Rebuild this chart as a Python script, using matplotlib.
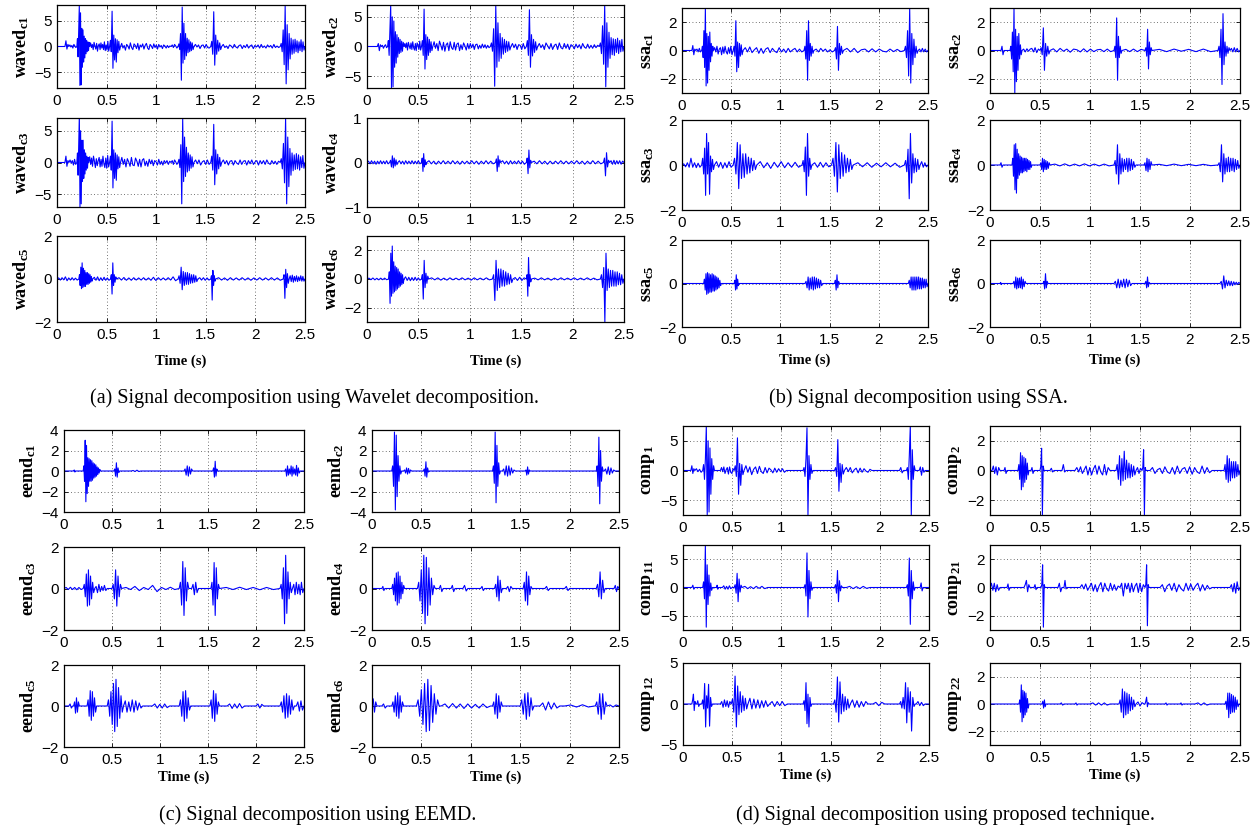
import numpy as np
import matplotlib
matplotlib.use("Agg")
import matplotlib.pyplot as plt

plt.rcParams['font.family'] = ['Liberation Sans', 'DejaVu Sans']
plt.rcParams['mathtext.fontset'] = 'custom'
plt.rcParams['mathtext.bf'] = 'Liberation Serif:bold'
plt.rcParams['mathtext.rm'] = 'Liberation Serif'
plt.rcParams['mathtext.it'] = 'Liberation Serif:italic'

# ---------------- data: segments (t_start, t_end, successive values) ----------------
time_ticks = [0, 0.5, 1, 1.5, 2, 2.5]
time_tick_labels = ['0', '0.5', '1', '1.5', '2', '2.5']

waved_c1 = [
    (0.08, 0.12, [1.1, -0.5, 0.4]),
    (0.12, 0.20, [0.3, -0.1, 0.2, -0.3, 0.4, 0.1, -0.2]),
    (0.20, 0.33, [1.5, -2, 2.5, 7.8, -7.5, 6.5, -7.4, 3.5, -4, 3.2, -3, 2, -2.2, 1.5, -1.4, 1.2, -1, 0.9, -0.8, 0.8]),
    (0.33, 0.53, [0.7, -0.2, 0.4, -0.6, 0.8, 0.1, -0.5, 0.6, -0.9, 0.2, 0.5, -0.6, 0.7, -0.3, 0.4, -0.6, 0.9, -0.8, 0.3, -0.7, 1.0, -0.9]),
    (0.53, 0.64, [1.2, -1, 6.8, -4.2, 2.2, -2.6, 1.5, -3.0, 1.3, -1.2, 1.0, -0.7]),
    (0.64, 1.15, [0.6, -0.3, 0.2, -0.7, 0.4, 0.1, -0.5, 0.7, -0.2, -0.6, 0.5, 0.2, -0.4, 0.6, -0.7, 0.3, -0.1, 0.5, -0.5, 0.2,
                  0.6, -0.3, -0.6, 0.4, 0.1, -0.4, 0.5, -0.2, 0.3, -0.5, 0.4, -0.1, 0.2, -0.4, 0.3, 0.1, -0.3, 0.2, -0.2, 0.1]),
    (1.15, 1.22, [0.3, -0.2, 0.4, 0.1, -0.3]),
    (1.22, 1.38, [0.5, -0.6, 2.5, -6.5, 7.6, -3.2, 4.5, -2.5, 2.5, -1.8, 1.6, -1.2, 1.3, -1.0, 0.9, -0.8, 0.7, -0.6]),
    (1.38, 1.55, [0.4, -0.1, 0.3, -0.4, 0.2, 0.3, -0.3, 0.4, -0.2, -0.3]),
    (1.55, 1.66, [1.0, -1.5, 6.7, -3.6, 2.2, -1.5, 1.2, -0.9, 0.7, -0.6]),
    (1.66, 2.25, [0.4, -0.2, 0.1, -0.4, 0.3, 0.1, -0.3, 0.4, -0.1, -0.3, 0.2, 0.3, -0.4, 0.2, -0.2, 0.4, -0.3, 0.1,
                  0.3, -0.4, 0.2, -0.1, 0.3, -0.3, 0.4, -0.2, 0.1, -0.3, 0.3, -0.1, 0.2, -0.3, 0.4, -0.2, 0.1, -0.2]),
    (2.25, 2.50, [0.6, -1.0, 3.2, -3.5, 7.8, -7.2, 4.2, -4.5, 2.5, -2.4, 1.6, -1.5, 1.3, -1.3, 1.4, -1.0, 1.1, -1.2, 0.9, -0.8, 1.3, -1.0, 0.9, -0.7]),
]

waved_c2 = [
    (0.10, 0.14, [0.5, -0.7, 0.3]),
    (0.14, 0.20, [0.2, -0.3, 0.1, 0.3, -0.2]),
    (0.20, 0.36, [1.0, -1.5, 3, 7.0, -7.0, 5, -6.8, 4.3, -3.5, 2.5, -2.8, 2.0, -1.8, 1.5, -1.2, 1.2, -1.0, 0.9, -0.8, 0.7]),
    (0.36, 0.53, [0.5, -0.2, 0.6, -0.6, 0.7, 0.1, -0.4, 0.6, -0.5, 0.8, -0.2, -0.6, 0.5, -0.7, 0.6, 0.2, -0.5, 0.9, -0.6]),
    (0.53, 0.64, [1.0, -1.5, 6.3, -3.8, 2.0, -2.2, 1.6, -1.5, 1.2, -1.0, 0.8, -0.7]),
    (0.64, 1.20, [0.8, -0.3, 0.5, -0.7, 0.9, 0.2, -0.6, 0.7, -0.8, 0.3, 0.6, -0.7, 0.8, -0.2, -0.5, 0.7, -0.6, 0.4, 0.6, -0.7,
                  0.3, -0.5, 0.6, 0.1, -0.6, 0.5, -0.4, 0.5, -0.2, 0.4, -0.5, 0.3, 0.4, -0.4, 0.2, -0.3, 0.4, -0.2, 0.3, -0.3, 0.2, -0.2]),
    (1.20, 1.40, [0.6, -0.8, 3, -6.7, 7.0, -3.5, 4.0, -2.5, 2.2, -2.0, 1.5, -1.3, 1.2, -1.0, 0.9, -0.8, 0.8, -0.6]),
    (1.40, 1.55, [0.5, -0.2, 0.4, -0.5, 0.3, 0.2, -0.5, 0.5, -0.4]),
    (1.55, 1.66, [1.0, -1.5, 6.2, -3.5, 2.0, -1.6, 1.2, -1.0, 0.8, -0.6]),
    (1.66, 2.26, [0.5, -0.2, 0.3, -0.5, 0.6, 0.1, -0.4, 0.5, -0.5, 0.2, 0.4, -0.5, 0.6, -0.2, -0.4, 0.5, -0.3, 0.4,
                  -0.5, 0.3, 0.1, -0.4, 0.4, -0.2, 0.3, -0.4, 0.5, -0.1, -0.3, 0.4, -0.3, 0.2, -0.3, 0.3, -0.2, 0.2]),
    (2.26, 2.50, [0.6, -1.2, 3.5, -3.0, 7.0, -6.8, 4.0, -3.5, 2.4, -2.0, 1.5, -1.4, 1.3, -1.5, 1.2, -1.0, 1.4, -1.2, 1.0, -0.9, 1.2, -0.8]),
]

waved_c3 = [
    (0.08, 0.12, [1.0, -0.6, 0.3]),
    (0.12, 0.20, [0.4, -0.1, 0.3, -0.4, 0.5, -0.3]),
    (0.20, 0.32, [1.5, -2.0, 3.0, 7.5, -7.0, 5.0, -6.5, 3.5, -3.0, 3.5, -2.5, 2.0, -1.8, 1.5, -1.2, 1.0, -0.9, 0.8]),
    (0.32, 0.53, [0.9, -0.3, 0.7, -0.6, 1.0, 0.2, -0.8, 0.6, -0.5, 0.3, 0.8, -0.7, 0.5, -0.6, 1.0, -0.2, -0.8, 0.7, -0.9, 1.1, -0.7]),
    (0.53, 0.64, [1.0, -1.2, 6.5, -4.0, 2.0, -2.5, 1.5, -2.8, 1.2, -1.0, 0.9, -0.8]),
    (0.64, 1.15, [0.8, -0.3, 0.5, -0.7, 0.6, 0.1, -0.6, 0.8, -0.4, -0.5, 0.7, 0.2, -0.6, 0.5, -0.7, 0.4, 0.6, -0.5, 0.2, -0.6,
                  0.5, -0.2, 0.4, -0.5, 0.3, 0.1, -0.4, 0.5, -0.3, 0.2, -0.4, 0.3, -0.1, 0.3, -0.3, 0.2]),
    (1.15, 1.22, [0.3, -0.3, 0.4, 0.1, -0.3]),
    (1.22, 1.38, [0.5, -0.8, 2.8, -6.5, 6.9, -3.0, 4.0, -2.2, 2.4, -1.5, 1.5, -1.3, 1.2, -0.9, 0.9, -0.7]),
    (1.38, 1.55, [0.4, -0.2, 0.4, -0.4, 0.1, 0.3, -0.3, 0.4, -0.3]),
    (1.55, 1.66, [1.0, -1.2, 6.0, -3.5, 2.0, -1.8, 1.3, -1.0, 0.8, -0.6]),
    (1.66, 2.25, [0.4, -0.2, 0.3, -0.4, 0.2, 0.3, -0.4, 0.3, -0.1, -0.3, 0.4, -0.3, 0.2, 0.3, -0.4, 0.3, -0.2, 0.4,
                  -0.3, 0.1, 0.3, -0.4, 0.3, -0.2, 0.3, -0.3, 0.4, -0.1, -0.3, 0.3, -0.2, 0.2, -0.3, 0.2]),
    (2.25, 2.50, [0.6, -1.0, 3.0, -3.2, 7.0, -6.5, 4.0, -3.8, 2.2, -2.0, 1.5, -1.3, 1.2, -1.1, 1.4, -1.0, 1.2, -1.2, 0.9, -0.8, 1.1, -0.9]),
]

waved_c4 = [
    (0.00, 0.22, [0.03, -0.03, 0.04, -0.03, 0.03, -0.04, 0.03, -0.03, 0.04, -0.03, 0.03, -0.03, 0.04, -0.03]),
    (0.22, 0.30, [0.05, -0.10, 0.15, -0.12, 0.10, -0.08, 0.06, -0.05]),
    (0.30, 0.53, [0.04, -0.03, 0.03, -0.04, 0.04, -0.03, 0.03, -0.03, 0.04, -0.03, 0.03, -0.03, 0.04, -0.03]),
    (0.53, 0.58, [0.10, -0.20, 0.20, -0.10, 0.06, -0.05]),
    (0.58, 1.25, [0.04, -0.03, 0.03, -0.04, 0.03, -0.03, 0.04, -0.03, 0.03, -0.03, 0.04, -0.03, 0.03, -0.04, 0.03, -0.03,
                  0.03, -0.03, 0.04, -0.03, 0.03, -0.04, 0.03, -0.03, 0.04, -0.03, 0.03, -0.03]),
    (1.25, 1.30, [0.08, -0.20, 0.15, -0.10, 0.06]),
    (1.30, 1.55, [0.04, -0.03, 0.03, -0.04, 0.04, -0.03, 0.03, -0.03, 0.04, -0.03, 0.03, -0.04]),
    (1.55, 1.60, [0.10, -0.25, 0.28, -0.12, 0.05]),
    (1.60, 2.30, [0.03, -0.03, 0.04, -0.03, 0.03, -0.04, 0.03, -0.03, 0.03, -0.03, 0.04, -0.03, 0.03, -0.03, 0.03, -0.03,
                  0.04, -0.03, 0.03, -0.04, 0.03, -0.03, 0.04, -0.03, 0.03, -0.03]),
    (2.30, 2.36, [0.10, -0.30, 0.22, -0.10, 0.05]),
    (2.36, 2.50, [0.04, -0.04, 0.05, -0.04, 0.04, -0.03, 0.04, -0.04, 0.03]),
]

waved_c5 = [
    (0.00, 0.22, [0.05, -0.05, 0.06, -0.04, 0.10, -0.08, 0.05, -0.05, 0.06, -0.05, 0.04, -0.05]),
    (0.22, 0.36, [0.2, -0.3, 0.55, -0.45, 0.75, -0.4, 0.5, -0.35, 0.4, -0.35, 0.3, -0.25, 0.3, -0.25, 0.25, -0.2, 0.2, -0.15, 0.12, -0.1]),
    (0.36, 0.54, [0.08, -0.06, 0.10, -0.08, 0.06, -0.07, 0.08, -0.06, 0.05, -0.06]),
    (0.54, 0.60, [0.2, -0.7, 0.75, -0.3, 0.2, -0.15, 0.1]),
    (0.60, 1.22, [0.06, -0.05, 0.07, -0.06, 0.05, -0.06, 0.06, -0.05, 0.05, -0.05, 0.06, -0.05, 0.05, -0.06, 0.08, -0.07,
                  0.06, -0.05, 0.05, -0.05, 0.06, -0.05, 0.1, -0.08]),
    (1.22, 1.42, [0.15, -0.2, 0.55, -0.5, 0.35, -0.3, 0.3, -0.25, 0.3, -0.25, 0.25, -0.2, 0.2, -0.18, 0.2, -0.15, 0.15, -0.12]),
    (1.42, 1.55, [0.06, -0.05, 0.06, -0.06, 0.05, -0.05]),
    (1.55, 1.60, [0.15, -0.98, 0.4, -0.3, 0.15, -0.1]),
    (1.60, 2.28, [0.06, -0.05, 0.05, -0.06, 0.06, -0.05, 0.05, -0.05, 0.06, -0.05, 0.05, -0.06, 0.05, -0.05, 0.06, -0.05,
                  0.05, -0.05, 0.06, -0.05, 0.05, -0.06]),
    (2.28, 2.34, [0.2, -0.9, 0.45, -0.4, 0.25, -0.2]),
    (2.34, 2.50, [0.15, -0.12, 0.18, -0.15, 0.12, -0.1, 0.15, -0.12, 0.1, -0.08, 0.15, -0.1, 0.12, -0.1]),
]

waved_c6 = [
    (0.00, 0.21, [0.06, -0.05, 0.07, -0.06, 0.05, -0.06, 0.06, -0.05, 0.06, -0.05]),
    (0.21, 0.36, [0.5, -1.7, 1.8, -1.2, 2.3, -1.0, 1.2, -0.9, 0.9, -0.8, 0.8, -0.7, 0.7, -0.6, 0.5, -0.5, 0.4, -0.4, 0.3, -0.3]),
    (0.36, 0.53, [0.15, -0.1, 0.12, -0.12, 0.1, -0.1, 0.12, -0.1, 0.08, -0.08]),
    (0.53, 0.60, [0.3, -1.4, 1.3, -0.6, 0.4, -0.3, 0.2]),
    (0.60, 1.22, [0.08, -0.06, 0.08, -0.08, 0.06, -0.08, 0.08, -0.06, 0.06, -0.06, 0.08, -0.06, 0.06, -0.08, 0.08, -0.06,
                  0.06, -0.06, 0.08, -0.06]),
    (1.22, 1.42, [0.3, -1.5, 1.3, -0.8, 0.7, -0.6, 0.7, -0.5, 0.6, -0.5, 0.5, -0.4, 0.4, -0.35, 0.3, -0.25]),
    (1.42, 1.55, [0.1, -0.1, 0.12, -0.1, 0.08]),
    (1.55, 1.60, [0.3, -1.2, 1.5, -0.5, 0.3, -0.2]),
    (1.60, 2.27, [0.06, -0.06, 0.08, -0.06, 0.06, -0.08, 0.06, -0.06, 0.08, -0.06, 0.06, -0.06, 0.08, -0.06, 0.06, -0.06,
                  0.08, -0.06, 0.06, -0.06]),
    (2.27, 2.50, [0.3, -0.6, 0.8, -3.0, 1.8, -0.8, 0.7, -0.6, 0.6, -0.5, 0.6, -0.5, 0.5, -0.5, 0.5, -0.4, 0.4, -0.4, 0.3, -0.3]),
]

ssa_c1 = [
    (0.10, 0.14, [0.35, -0.3, 0.1]),
    (0.14, 0.20, [0.1, -0.1, 0.15, -0.1]),
    (0.20, 0.32, [0.3, -0.5, 1.4, -1.2, 3.0, -2.5, 1.2, -2.3, 1.0, -1.4, 1.3, -0.8, 0.5, -0.4, 0.3]),
    (0.32, 0.52, [0.2, -0.1, 0.3, -0.25, 0.1, 0.2, -0.3, 0.25, -0.2, 0.3, -0.1, -0.25, 0.2, -0.2, 0.3, -0.3]),
    (0.52, 0.62, [0.3, -0.4, 2.1, -1.5, 0.6, -1.2, 0.5, -0.4, 0.4, -0.3]),
    (0.62, 1.24, [0.2, -0.1, 0.25, -0.15, 0.05, 0.2, -0.2, 0.15, -0.2, 0.1, 0.2, -0.15, 0.15, -0.05, -0.15, 0.2, -0.1, 0.1,
                  -0.15, 0.15, -0.1, 0.05, 0.15, -0.1, 0.1, -0.1]),
    (1.24, 1.34, [0.3, -0.6, 1.4, -2.1, 2.1, -0.7, 0.5, -0.4, 0.3, -0.2]),
    (1.34, 1.55, [0.1, -0.1, 0.15, -0.05, 0.1, -0.1, 0.05, -0.1]),
    (1.55, 1.64, [0.2, -0.6, 1.7, -1.4, 0.5, -0.3, 0.3, -0.2]),
    (1.64, 2.26, [0.15, -0.1, 0.15, -0.15, 0.05, 0.1, -0.1, 0.12, -0.1, 0.1, -0.05, -0.1, 0.1, -0.08, 0.08, -0.08]),
    (2.26, 2.40, [0.3, -0.5, 1.4, -1.8, 3.0, -2.3, 1.2, -1.0, 0.8, -0.5, 0.3, -0.2]),
    (2.40, 2.50, [0.1, -0.1, 0.15, -0.1, 0.1, -0.1]),
]

ssa_c2 = [
    (0.11, 0.14, [0.3, -0.3]),
    (0.20, 0.32, [0.3, -0.6, 1.3, -1.5, 3.0, -3.0, 1.5, -2.2, 1.0, -1.4, 1.2, -0.6, 0.4, -0.3]),
    (0.32, 0.50, [0.1, -0.1, 0.12, -0.05, 0.1, 0.15, -0.1, 0.2, -0.15, 0.1]),
    (0.50, 0.60, [0.2, -0.3, 1.6, -1.4, 0.5, -0.4, 0.3, -0.25]),
    (0.60, 1.24, [0.12, -0.1, 0.15, -0.05, 0.1, -0.12, 0.1, 0.05, -0.1, 0.12, -0.1, 0.1, -0.08, 0.05, 0.08, -0.08, 0.1, -0.08]),
    (1.24, 1.32, [0.3, -0.5, 2.3, -2.1, 1.0, -0.5, 0.3, -0.2]),
    (1.32, 1.55, [0.08, -0.08, 0.1, -0.08, 0.08]),
    (1.55, 1.62, [0.2, -0.4, 1.5, -1.3, 0.6, -0.3, 0.2]),
    (1.62, 2.28, [0.08, -0.08, 0.1, -0.05, 0.08, -0.08, 0.1, -0.08]),
    (2.28, 2.40, [0.3, -0.5, 1.5, -2.4, 2.6, -1.0, 0.6, -0.4, 0.3, -0.2, 0.2]),
    (2.40, 2.50, [0.15, -0.1, 0.2, -0.1, 0.15, -0.1]),
]

ssa_c3 = [
    (0.00, 0.20, [0.05, -0.08, 0.1, -0.1, 0.3, -0.1, 0.1, -0.12, 0.08, -0.1]),
    (0.20, 0.33, [0.3, -0.4, 0.75, -1.35, 1.4, -0.4, 1.0, -1.3, 0.4, -0.3, 0.25, -0.2]),
    (0.33, 0.52, [0.15, -0.1, 0.12, -0.15, 0.1, -0.12, 0.15, -0.1]),
    (0.52, 0.76, [0.3, -0.4, 1.0, -1.05, 0.9, -0.6, 0.5, -0.55, 0.5, -0.4, 0.35, -0.35, 0.3, -0.25, 0.2, -0.2]),
    (0.76, 1.22, [0.15, -0.12, 0.1, -0.15, 0.12, -0.1, 0.15, -0.12, 0.1, -0.1, 0.12, -0.1]),
    (1.22, 1.32, [0.2, -0.3, 0.8, -1.35, 1.4, -0.5, 0.3, -0.2]),
    (1.32, 1.52, [0.1, -0.1, 0.12, -0.1, 0.1, -0.08]),
    (1.52, 1.74, [0.3, -0.5, 1.0, -1.2, 0.9, -0.6, 0.55, -0.5, 0.45, -0.35, 0.3, -0.3, 0.25, -0.2]),
    (1.74, 2.26, [0.1, -0.08, 0.1, -0.1, 0.08, -0.08, 0.1, -0.08, 0.08, -0.1]),
    (2.26, 2.42, [0.2, -0.3, 0.7, -1.5, 1.4, -0.8, 0.5, -0.35, 0.3, -0.3, 0.25, -0.2]),
    (2.42, 2.50, [0.15, -0.1, 0.1, -0.08]),
]

ssa_c4 = [
    (0.10, 0.13, [0.1, -0.1]),
    (0.22, 0.42, [0.3, -0.5, 0.9, -1.1, 0.95, -1.25, 0.7, -0.6, 0.5, -0.45, 0.4, -0.35, 0.35, -0.35, 0.3, -0.3, 0.3, -0.25,
                  0.3, -0.3, 0.25, -0.2, 0.2, -0.2, 0.15, -0.1]),
    (0.50, 0.60, [0.1, -0.2, 0.3, -0.3, 0.25, -0.2, 0.2, -0.2, 0.15, -0.15, 0.1]),
    (0.60, 1.24, [0.04, -0.04, 0.05, -0.04, 0.04, -0.04, 0.05, -0.04, 0.04, -0.04, 0.04, -0.04]),
    (1.24, 1.46, [0.2, -0.4, 0.9, -0.85, 0.5, -0.4, 0.3, -0.3, 0.25, -0.2, 0.3, -0.3, 0.3, -0.25, 0.25, -0.2, 0.15, -0.1]),
    (1.54, 1.62, [0.1, -0.25, 0.3, -0.3, 0.25, -0.2, 0.15]),
    (1.62, 2.28, [0.03, -0.03, 0.04, -0.03, 0.03, -0.03, 0.03, -0.03]),
    (2.28, 2.50, [0.1, -0.3, 0.9, -0.75, 0.5, -0.4, 0.3, -0.3, 0.35, -0.3, 0.3, -0.25, 0.3, -0.3, 0.25, -0.2, 0.2, -0.15]),
]

ssa_c5 = [
    (0.22, 0.40, [0.2, -0.3, 0.45, -0.5, 0.5, -0.45, 0.45, -0.4, 0.4, -0.4, 0.45, -0.35, 0.4, -0.35, 0.35, -0.3, 0.3, -0.25,
                  0.25, -0.2, 0.15, -0.1]),
    (0.53, 0.58, [0.15, -0.3, 0.4, -0.25, 0.2, -0.1]),
    (1.25, 1.43, [0.1, -0.2, 0.3, -0.3, 0.25, -0.25, 0.3, -0.3, 0.3, -0.25, 0.25, -0.2, 0.2, -0.2, 0.15, -0.1]),
    (1.55, 1.60, [0.15, -0.3, 0.4, -0.2, 0.1]),
    (2.30, 2.50, [0.15, -0.2, 0.3, -0.3, 0.3, -0.3, 0.3, -0.3, 0.3, -0.25, 0.3, -0.25, 0.25, -0.25, 0.25, -0.2, 0.2, -0.2, 0.2, -0.15]),
]

ssa_c6 = [
    (0.10, 0.12, [0.05, -0.05]),
    (0.23, 0.36, [0.1, -0.2, 0.3, -0.25, 0.25, -0.2, 0.25, -0.2, 0.3, -0.25, 0.2, -0.15, 0.1]),
    (0.53, 0.58, [0.1, -0.25, 0.45, -0.2, 0.1]),
    (1.24, 1.42, [0.1, -0.2, 0.2, -0.2, 0.15, -0.15, 0.2, -0.2, 0.2, -0.15, 0.15, -0.1]),
    (1.55, 1.60, [0.1, -0.2, 0.3, -0.15, 0.05]),
    (2.30, 2.50, [0.1, -0.25, 0.35, -0.2, 0.15, -0.1, 0.12, -0.1, 0.1, -0.1, 0.08, -0.06, 0.06, -0.05, 0.05]),
]

eemd_c1 = [
    (0.10, 0.12, [0.1, -0.1]),
    (0.20, 0.38, [0.5, -1.0, 3.0, -3.0, 2.5, -2.2, 1.3, -1.5, 1.2, -1.0, 1.1, -1.0, 1.0, -0.9, 0.8, -0.7, 0.7, -0.6, 0.6, -0.5,
                  0.4, -0.35, 0.3, -0.2, 0.15]),
    (0.52, 0.58, [0.2, -0.5, 0.8, -0.6, 0.3, -0.15]),
    (0.70, 0.80, [0.05, -0.05, 0.08, -0.05]),
    (1.25, 1.34, [0.2, -0.4, 0.5, -0.5, 0.4, -0.3, 0.2]),
    (1.55, 1.60, [0.3, -0.6, 0.95, -0.5, 0.2]),
    (2.30, 2.46, [0.2, -0.5, 0.5, -0.4, 0.2, -0.3, 0.5, -0.5, 0.4, -0.3, 0.2, -0.4, 0.55, -0.5, 0.3, -0.2]),
]

eemd_c2 = [
    (0.20, 0.30, [0.5, -1.5, 3.8, -3.8, 3.5, -2.5, 1.5, -1.0, 0.5, -0.3]),
    (0.32, 0.40, [0.1, -0.2, 0.3, -0.3, 0.25, -0.2, 0.1]),
    (0.52, 0.58, [0.2, -0.5, 0.9, -0.6, 0.3, -0.1]),
    (1.22, 1.30, [0.5, -1.2, 3.8, -3.1, 2.5, -1.5, 0.8, -0.3]),
    (1.32, 1.45, [0.2, -0.4, 0.5, -0.5, 0.5, -0.4, 0.3, -0.2, 0.1]),
    (1.55, 1.60, [0.1, -0.4, 0.4, -0.3, 0.1]),
    (2.27, 2.34, [0.5, -1.5, 3.3, -3.2, 2.0, -1.0, 0.4]),
    (2.35, 2.46, [0.2, -0.3, 0.4, -0.35, 0.3, -0.2, 0.1]),
]

eemd_c3 = [
    (0.00, 0.20, [0.05, -0.05, 0.06, -0.05, 0.05, -0.06, 0.05, -0.05]),
    (0.20, 0.32, [0.2, -0.4, 0.7, -0.85, 0.9, -0.8, 0.6, -0.5, 0.3, -0.2]),
    (0.32, 0.45, [0.1, -0.2, 0.2, -0.15, 0.1, -0.1, 0.15, -0.1]),
    (0.50, 0.60, [0.2, -0.5, 0.9, -0.85, 0.6, -0.4, 0.2]),
    (0.60, 1.20, [0.05, -0.05, 0.1, -0.1, 0.05, -0.05, 0.15, -0.15, 0.05, -0.05, 0.06, -0.05]),
    (1.20, 1.30, [0.3, -0.8, 1.3, -1.3, 1.0, -0.6, 0.3]),
    (1.33, 1.40, [0.2, -0.3, 0.3, -0.2]),
    (1.53, 1.62, [0.3, -0.8, 1.25, -1.3, 1.0, -0.5, 0.2]),
    (1.62, 2.25, [0.05, -0.05, 0.06, -0.05, 0.05, -0.06, 0.05, -0.05]),
    (2.25, 2.38, [0.2, -0.5, 1.0, -1.7, 1.6, -1.2, 0.8, -0.5, 0.3, -0.2]),
    (2.38, 2.50, [0.2, -0.3, 0.3, -0.25, 0.2, -0.3, 0.3, -0.2]),
]

eemd_c4 = [
    (0.10, 0.13, [0.1, -0.1]),
    (0.20, 0.33, [0.2, -0.3, 0.5, -0.6, 0.75, -0.8, 0.8, -0.7, 0.6, -0.5, 0.3, -0.25, 0.15]),
    (0.46, 0.64, [0.3, -0.6, 0.9, -1.2, 1.6, -1.7, 1.5, -1.3, 1.0, -0.8, 0.5, -0.3, 0.15]),
    (0.68, 0.72, [0.15, -0.15]),
    (0.80, 0.84, [0.15, -0.15]),
    (0.92, 0.97, [0.15, -0.12]),
    (1.10, 1.14, [0.1, -0.1]),
    (1.24, 1.32, [0.2, -0.4, 0.6, -0.6, 0.4, -0.2]),
    (1.36, 1.42, [0.1, -0.15, 0.1]),
    (1.53, 1.62, [0.3, -0.6, 0.8, -0.8, 0.6, -0.3, 0.1]),
    (1.75, 1.80, [0.1, -0.1]),
    (1.95, 2.00, [0.1, -0.1]),
    (2.27, 2.36, [0.2, -0.4, 0.8, -0.5, 0.4, -0.2]),
    (2.45, 2.50, [0.15, -0.15, 0.1]),
]

eemd_c5 = [
    (0.05, 0.09, [0.1, -0.1]),
    (0.10, 0.16, [0.2, -0.35, 0.4, -0.3, 0.2]),
    (0.24, 0.34, [0.3, -0.5, 0.75, -0.7, 0.7, -0.5, 0.4, -0.3]),
    (0.45, 0.62, [0.3, -0.5, 0.7, -0.9, 1.1, -1.25, 1.3, -1.0, 0.9, -0.6, 0.5, -0.3]),
    (0.62, 0.82, [0.25, -0.3, 0.2, -0.25, 0.3, -0.3, 0.25, -0.2, 0.15, -0.1]),
    (0.92, 1.10, [0.1, -0.1, 0.08, -0.1, 0.1, -0.08]),
    (1.20, 1.32, [0.3, -0.5, 0.7, -0.75, 0.75, -0.6, 0.4, -0.2]),
    (1.52, 1.62, [0.3, -0.6, 0.75, -0.75, 0.6, -0.4, 0.2]),
    (1.70, 1.88, [0.1, -0.12, 0.1, -0.1, 0.12, -0.1]),
    (2.00, 2.08, [0.1, -0.1, 0.08]),
    (2.25, 2.40, [0.2, -0.3, 0.5, -0.6, 0.6, -0.55, 0.5, -0.4, 0.3, -0.2]),
    (2.42, 2.50, [0.2, -0.25, 0.25, -0.2]),
]

eemd_c6 = [
    (0.00, 0.05, [0.35, -0.3, 0.2]),
    (0.10, 0.15, [0.1, -0.1]),
    (0.20, 0.32, [0.2, -0.3, 0.5, -0.5, 0.65, -0.6, 0.5, -0.3, 0.2]),
    (0.45, 0.68, [0.3, -0.5, 0.8, -0.9, 1.1, -1.25, 1.3, -1.2, 1.0, -0.8, 0.6, -0.4, 0.3]),
    (0.70, 1.20, [0.1, -0.1, 0.12, -0.1, 0.1, -0.12, 0.1, -0.1, 0.08, -0.1, 0.1, -0.08]),
    (1.22, 1.32, [0.2, -0.4, 0.6, -0.6, 0.5, -0.3, 0.2]),
    (1.50, 1.64, [0.3, -0.4, 0.6, -0.65, 0.65, -0.5, 0.4, -0.2]),
    (1.70, 1.90, [0.15, -0.2, 0.2, -0.15, 0.15, -0.1]),
    (1.95, 2.25, [0.05, -0.05, 0.06, -0.05]),
    (2.26, 2.38, [0.2, -0.4, 0.6, -0.65, 0.6, -0.4, 0.2]),
    (2.38, 2.50, [0.05, -0.05, 0.05]),
]

comp_1 = [
    (0.08, 0.12, [0.8, -0.5, 0.3]),
    (0.12, 0.20, [0.3, -0.2, 0.2, -0.3]),
    (0.20, 0.32, [1.0, -1.5, 2.0, 7.5, -7.5, 5.0, -7.0, 3.8, -4.0, 2.0, -1.5, 0.8]),
    (0.38, 0.52, [0.5, -0.2, 0.6, -0.5, 0.1, 0.5, -0.6, 0.6, -0.3, -0.5, 0.3]),
    (0.52, 0.62, [0.8, -1.0, 5.5, -4.0, 1.2, -2.5, 1.0, -0.7]),
    (0.62, 1.05, [0.8, -0.3, 0.6, -0.7, 0.2, 0.6, -0.5, 0.7, -0.2, -0.5, 0.5, -0.4, 0.4, 0.1, -0.4, 0.4, -0.3, 0.3, -0.2, 0.3, -0.3]),
    (1.22, 1.32, [0.5, -1.0, 2.0, 7.2, -7.5, 2.5, -1.5, 1.0, -0.5]),
    (1.54, 1.64, [0.5, -1.0, 5.2, -3.5, 1.2, -2.0, 1.0, -0.6]),
    (1.64, 1.92, [0.5, -0.2, 0.5, -0.4, 0.1, 0.4, -0.4, 0.4, -0.3, 0.3, -0.1, -0.3, 0.2]),
    (2.20, 2.24, [0.5, -0.4]),
    (2.27, 2.36, [0.5, -1.5, 2.5, 7.5, -7.5, 3.5, -1.5, 0.8]),
    (2.40, 2.46, [0.6, -0.8, 0.5, -0.3]),
]

comp_2 = [
    (0.02, 0.10, [0.3, -0.2, 0.25, -0.3, 0.2]),
    (0.14, 0.17, [0.2, -0.2]),
    (0.28, 0.39, [0.4, -0.6, 1.2, -1.3, 1.0, -1.1, 0.9, -0.8, 0.8, -0.6, 0.5, -0.3]),
    (0.41, 0.44, [0.2, -0.2]),
    (0.50, 0.54, [0.3, 1.5, -3.0, 0.3]),
    (0.60, 0.64, [0.15, -0.1]),
    (0.72, 0.76, [0.4, -0.1]),
    (0.85, 1.20, [0.2, -0.1, 0.25, -0.2, 0.05, 0.3, -0.3, 0.2, -0.3, 0.1, 0.35, -0.25, 0.3, -0.1, -0.3, 0.4, -0.3, 0.2]),
    (1.26, 1.46, [0.4, -0.6, 1.0, -1.0, 0.8, -0.7, 1.3, -0.6, 0.7, -0.5, 0.5, -0.5, 0.4, -0.4, 0.3, -0.3]),
    (1.46, 1.52, [0.2, -0.2, 0.15]),
    (1.52, 1.56, [0.2, 1.4, -3.0, 0.2]),
    (1.60, 2.22, [0.2, -0.2, 0.05, 0.15, -0.2, 0.25, -0.1, -0.2, 0.2, -0.25, 0.3, -0.2, 0.1, 0.2, -0.2, 0.25, -0.25, 0.2,
                  -0.1, -0.2, 0.3, -0.2, 0.2, -0.15]),
    (2.34, 2.50, [0.4, -0.6, 1.0, -0.8, 0.8, -0.7, 0.6, -0.5, 0.6, -0.5, 0.6, -0.4, 0.4, -0.3]),
]

comp_11 = [
    (0.09, 0.12, [0.4, -0.3]),
    (0.20, 0.30, [1.0, -2.0, 7.5, -7.0, 4.0, -3.0, 2.2, -1.5, 0.8, -0.5]),
    (0.34, 0.36, [0.4, -0.3]),
    (0.40, 0.50, [0.3, -0.3, 0.2, -0.3, 0.3, -0.2]),
    (0.52, 0.60, [0.5, -1.0, 2.5, -2.5, 1.5, -0.8, 0.4]),
    (0.60, 0.86, [0.2, -0.2, 0.15, -0.2, 0.2, -0.15, 0.2, -0.2]),
    (1.23, 1.32, [0.5, -1.5, 6.1, -5.2, 3.0, -2.0, 1.0, -0.5]),
    (1.54, 1.62, [0.5, -1.0, 3.0, -2.5, 1.2, -0.6, 0.3]),
    (1.66, 1.90, [0.2, -0.2, 0.15, -0.2, 0.2, -0.15]),
    (2.27, 2.36, [0.5, -1.5, 5.2, -6.5, 3.0, -2.0, 1.0, -0.5]),
    (2.41, 2.44, [0.8, -0.6]),
]

comp_21 = [
    (0.00, 0.10, [0.3, -0.2, 0.3, -0.3, 0.2, -0.2]),
    (0.17, 0.20, [0.25, -0.2]),
    (0.34, 0.40, [0.2, 0.5, -0.3, 0.2]),
    (0.44, 0.47, [0.2, -0.15]),
    (0.51, 0.55, [0.2, 1.6, -2.8, 0.2]),
    (0.68, 0.72, [0.3, -0.3]),
    (0.74, 0.77, [0.5, -0.1]),
    (0.90, 1.30, [0.2, -0.1, 0.25, -0.2, 0.05, 0.3, -0.25, 0.2, -0.3, 0.1, 0.35, -0.3, 0.3, -0.1, -0.25, 0.3, -0.2, 0.2, -0.2, 0.1]),
    (1.30, 1.55, [0.3, -0.6, 0.3, -0.1, 0.3, -0.35, 0.3, -0.3, 0.1, 0.3, -0.35, 0.3, -0.3, 0.2]),
    (1.55, 1.59, [0.2, 1.6, -2.7, 0.2]),
    (1.70, 2.22, [0.2, -0.3, 0.1, 0.25, -0.2, 0.3, -0.3, 0.2, -0.1, -0.25, 0.3, -0.2, 0.25, -0.2, 0.1, 0.3, -0.25, 0.2,
                  -0.2, 0.15, -0.1]),
    (2.40, 2.50, [0.2, -0.3, 0.3, -0.4, 0.4, -0.2]),
]

comp_12 = [
    (0.09, 0.13, [0.5, 1.2, -0.8, 0.3]),
    (0.14, 0.17, [0.4, -0.3]),
    (0.19, 0.30, [0.5, -0.6, 2.5, -2.8, 1.0, -0.5, 2.4, -2.7, 0.8, -0.3]),
    (0.38, 0.49, [0.3, -0.4, 0.5, -0.3, 0.4, -0.4, 0.3]),
    (0.49, 0.66, [0.6, -1.0, 3.4, -2.8, 2.2, -1.3, 1.5, -1.0, 1.0, -0.8, 0.7, -0.6]),
    (0.66, 0.88, [0.7, -0.6, 0.6, -0.5, 0.5, -0.5, 0.4, -0.4, 0.4, -0.3]),
    (0.88, 1.06, [0.3, -0.3, 0.3, -0.2, 0.3, -0.2]),
    (1.22, 1.31, [0.4, -0.8, 2.6, -2.4, 1.2, -2.8, 0.8, -0.3]),
    (1.53, 1.70, [0.5, -1.0, 3.3, -2.2, 2.7, -1.2, 1.2, -0.9, 0.9, -0.7, 0.6, -0.5]),
    (1.70, 1.88, [0.5, -0.4, 0.4, -0.4, 0.3, -0.3, 0.3]),
    (1.93, 2.05, [0.2, -0.2, 0.2]),
    (2.20, 2.36, [0.3, -0.5, 0.8, -0.6, 2.6, -2.3, 2.0, -1.0, 1.5, -3.3, 0.8, -0.3]),
    (2.37, 2.46, [0.3, -0.2, 0.2, -0.2]),
]

comp_22 = [
    (0.29, 0.39, [0.3, -0.6, 1.4, -1.3, 1.0, -1.0, 0.9, -0.8, 0.8, -0.6, 0.4, -0.3]),
    (0.52, 0.56, [0.2, -0.3, 0.3, -0.2]),
    (0.70, 0.74, [0.08, -0.08]),
    (0.85, 0.88, [0.08, -0.08]),
    (1.00, 1.20, [0.08, -0.08, 0.08, -0.08, 0.08, -0.08]),
    (1.29, 1.46, [0.3, -0.6, 1.1, -1.0, 0.9, -0.8, 0.8, -0.7, 0.7, -0.5, 0.5, -0.4, 0.3, -0.2]),
    (1.46, 1.54, [0.15, -0.15, 0.1]),
    (1.55, 1.59, [0.2, 0.5, -0.2, 0.1]),
    (1.75, 1.78, [0.08, -0.08]),
    (1.90, 1.93, [0.08, -0.08]),
    (2.05, 2.20, [0.08, -0.08, 0.08, -0.08]),
    (2.35, 2.49, [0.2, -0.4, 0.8, -1.0, 0.8, -0.7, 0.7, -0.6, 0.6, -0.6, 0.5, -0.4, 0.3, -0.2]),
]

captions = [
    "(a) Signal decomposition using Wavelet decomposition.",
    "(b) Signal decomposition using SSA.",
    "(c) Signal decomposition using EEMD.",
    "(d) Signal decomposition using proposed technique.",
]

# ---------------- layout (pixel boxes: left, top, right, bottom) ----------------
W, H = 1260, 830
quad_cols = {
    'a': [(57, 305), (367, 624)],
    'b': [(682, 928), (990, 1240)],
    'c': [(64, 304), (372, 619)],
    'd': [(683, 929), (990, 1240)],
}
quad_rows = {
    'a': [(5, 88), (118, 207), (236, 322)],
    'b': [(8, 93), (120, 210), (240, 327)],
    'c': [(430, 512), (547, 630), (665, 747)],
    'd': [(426, 515), (545, 630), (663, 745)],
}
xlabel_pad = {'a': 9, 'b': 5, 'c': 3, 'd': 3}
caption_pos = [(315, 398), (918, 398), (318, 815), (945, 815)]

panels = [
    ('a', 0, 0, waved_c1, 'waved', 'c1', (-8, 8), [-5, 0, 5]),
    ('a', 0, 1, waved_c2, 'waved', 'c2', (-7, 7), [-5, 0, 5]),
    ('a', 1, 0, waved_c3, 'waved', 'c3', (-7, 7), [-5, 0, 5]),
    ('a', 1, 1, waved_c4, 'waved', 'c4', (-1, 1), [-1, 0, 1]),
    ('a', 2, 0, waved_c5, 'waved', 'c5', (-2, 2), [-2, 0, 2]),
    ('a', 2, 1, waved_c6, 'waved', 'c6', (-3, 3), [-2, 0, 2]),
    ('b', 0, 0, ssa_c1, 'ssa', 'c1', (-3, 3), [-2, 0, 2]),
    ('b', 0, 1, ssa_c2, 'ssa', 'c2', (-3, 3), [-2, 0, 2]),
    ('b', 1, 0, ssa_c3, 'ssa', 'c3', (-2, 2), [-2, 0, 2]),
    ('b', 1, 1, ssa_c4, 'ssa', 'c4', (-2, 2), [-2, 0, 2]),
    ('b', 2, 0, ssa_c5, 'ssa', 'c5', (-2, 2), [-2, 0, 2]),
    ('b', 2, 1, ssa_c6, 'ssa', 'c6', (-2, 2), [-2, 0, 2]),
    ('c', 0, 0, eemd_c1, 'eemd', 'c1', (-4, 4), [-4, -2, 0, 2, 4]),
    ('c', 0, 1, eemd_c2, 'eemd', 'c2', (-4, 4), [-4, -2, 0, 2, 4]),
    ('c', 1, 0, eemd_c3, 'eemd', 'c3', (-2, 2), [-2, 0, 2]),
    ('c', 1, 1, eemd_c4, 'eemd', 'c4', (-2, 2), [-2, 0, 2]),
    ('c', 2, 0, eemd_c5, 'eemd', 'c5', (-2, 2), [-2, 0, 2]),
    ('c', 2, 1, eemd_c6, 'eemd', 'c6', (-2, 2), [-2, 0, 2]),
    ('d', 0, 0, comp_1, 'comp', '1', (-7.5, 7.5), [-5, 0, 5]),
    ('d', 0, 1, comp_2, 'comp', '2', (-3, 3), [-2, 0, 2]),
    ('d', 1, 0, comp_11, 'comp', '11', (-7.5, 7.5), [-5, 0, 5]),
    ('d', 1, 1, comp_21, 'comp', '21', (-3, 3), [-2, 0, 2]),
    ('d', 2, 0, comp_12, 'comp', '12', (-5, 5), [-5, 0, 5]),
    ('d', 2, 1, comp_22, 'comp', '22', (-3, 3), [-2, 0, 2]),
]


def build(segs):
    t = [0.0]
    y = [0.0]
    for t0, t1, vals in segs:
        pts = np.linspace(t0, t1, len(vals) + 2)
        t.append(t0); y.append(0.0)
        t.extend(pts[1:-1]); y.extend(vals)
        t.append(t1); y.append(0.0)
    t.append(2.5); y.append(0.0)
    return np.array(t), np.array(y)


fig = plt.figure(figsize=(W / 100, H / 100), dpi=100)

for q, r, c, segs, name, sub, ylim, yticks in panels:
    x0, x1 = quad_cols[q][c]
    y0, y1 = quad_rows[q][r]
    ax = fig.add_axes([x0 / W, 1 - y1 / H, (x1 - x0) / W, (y1 - y0) / H])
    t, y = build(segs)
    ax.plot(t, y, color='#0000ff', lw=0.8)
    ax.set_xlim(0, 2.5)
    ax.set_ylim(*ylim)
    ax.set_xticks(time_ticks)
    ax.set_xticklabels(time_tick_labels)
    ax.set_yticks(yticks)
    ax.set_yticklabels([('\u2212' + str(abs(v))) if v < 0 else str(v) for v in yticks])
    ax.tick_params(direction='in', length=3, width=0.6, labelsize=11, top=True, right=True, pad=4)
    ax.grid(True, linestyle=(0, (1, 3)), color='#444444', linewidth=0.6)
    for s in ax.spines.values():
        s.set_linewidth(0.9)
    ax.set_ylabel(r'$\mathbf{' + name + r'}_{\mathbf{' + sub + r'}}$', fontsize=13, labelpad=2)
    if r == 2:
        ax.set_xlabel('Time (s)', fontsize=10.5, fontweight='bold', family='Liberation Serif',
                      labelpad=xlabel_pad[q])

for (cx, cy), txt in zip(caption_pos, captions):
    fig.text(cx / W, 1 - cy / H, txt, ha='center', va='center', fontsize=14.5, family='Liberation Serif')

fig.savefig('out.png', dpi=100)
